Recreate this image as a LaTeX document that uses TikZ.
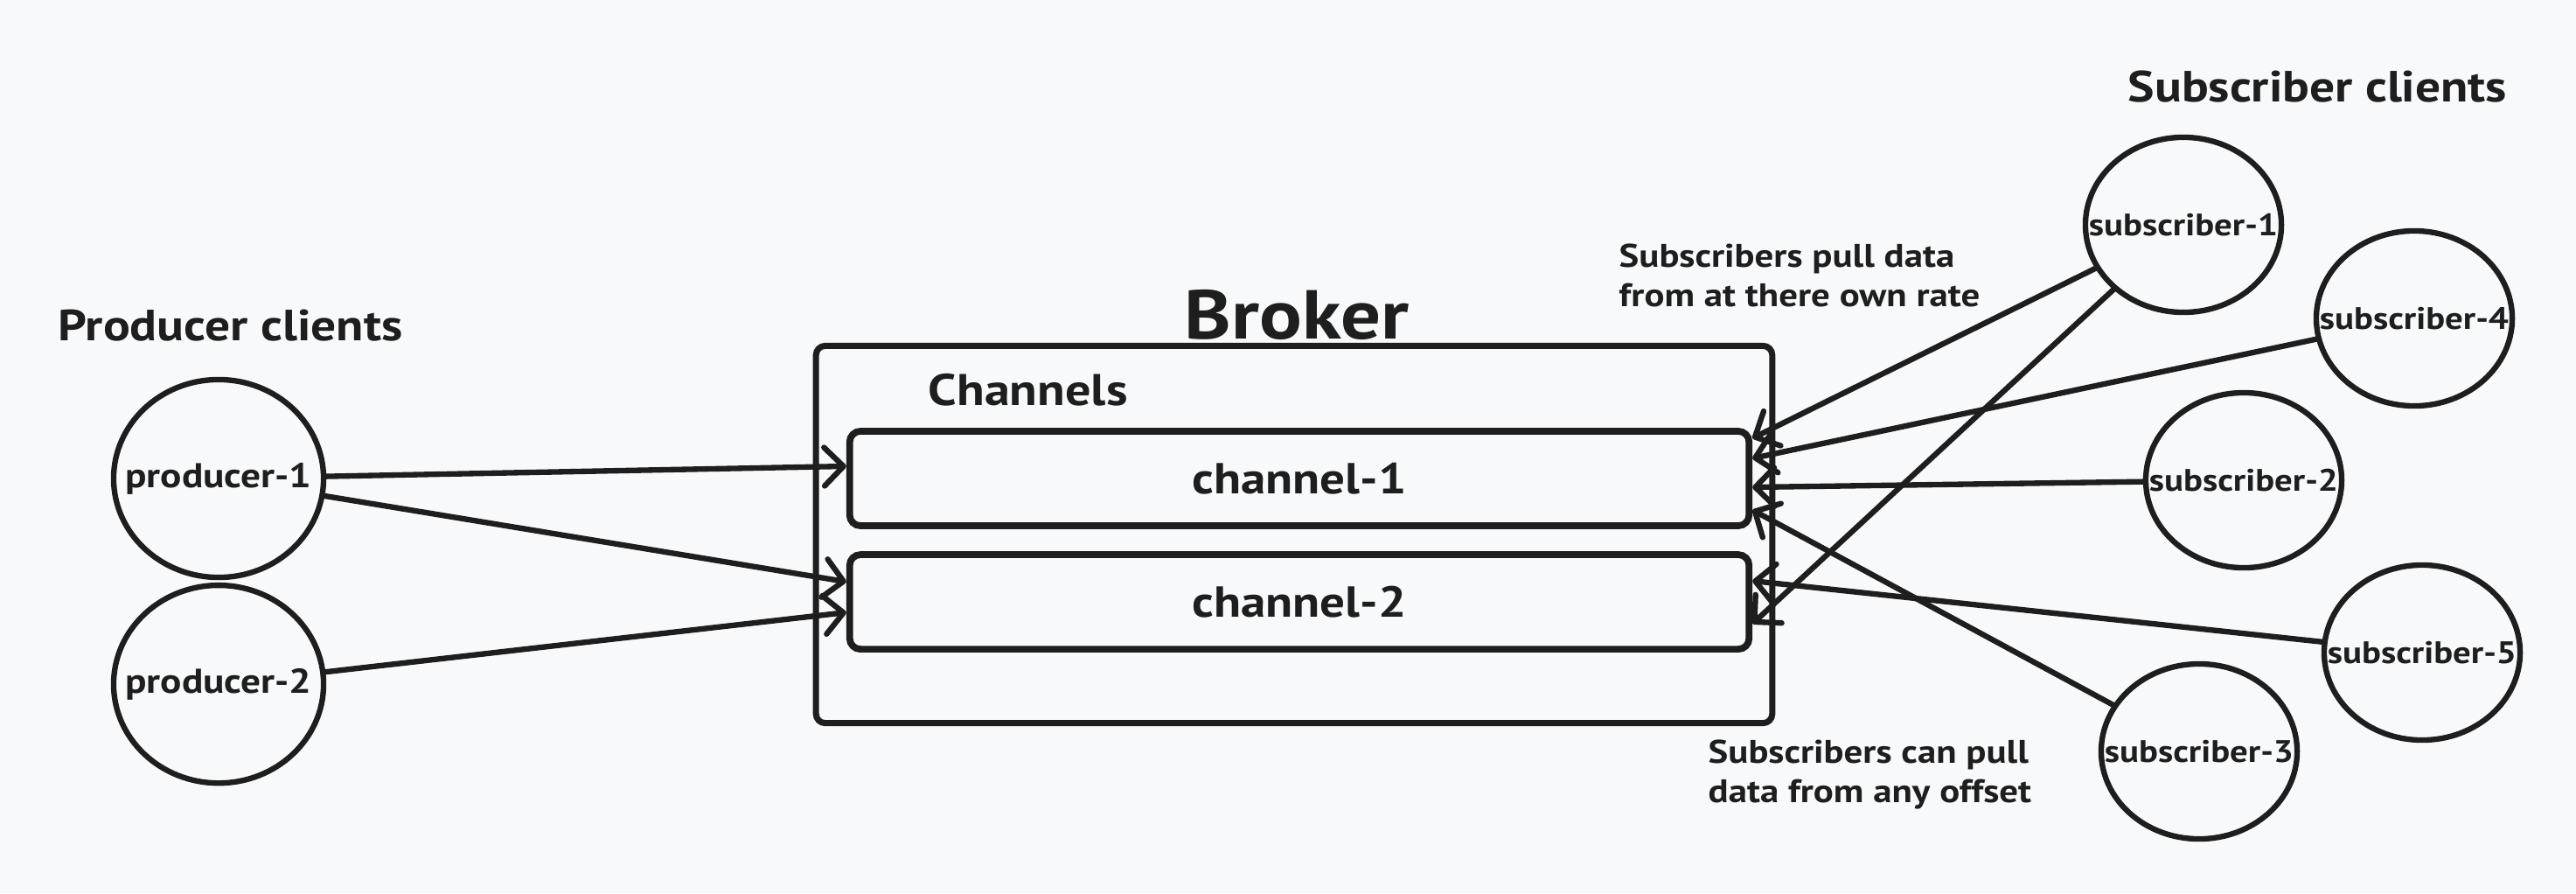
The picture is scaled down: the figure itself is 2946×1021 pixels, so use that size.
\documentclass[tikz,border=0pt]{standalone}
\usepackage{fontspec}
\setmainfont{PT Sans}[FakeStretch=1.15]
\usepackage{tikz}
\usetikzlibrary{shapes,arrows.meta,positioning}
\definecolor{ink}{HTML}{1E1E1E}
\definecolor{paper}{HTML}{F8F9FA}
\tikzset{
  client/.style={draw=ink,ellipse,line width=1.8pt,minimum width=2.4cm,minimum height=2.26cm,inner sep=0pt},
  sub/.style={client,minimum width=2.24cm,minimum height=2cm},
  chan/.style={draw=ink,line width=2.2pt,rounded corners=3.5pt,minimum width=10.28cm,minimum height=1.08cm,text=ink,font=\fontsize{14.1}{16}\selectfont\bfseries},
  lbl/.style={text=ink,inner sep=0pt,font=\fontsize{11.2}{13}\selectfont\bfseries},
  slbl/.style={text=ink,inner sep=0pt,font=\fontsize{10.1}{12}\selectfont\bfseries},
  title/.style={text=ink,inner sep=0pt,font=\fontsize{14.2}{16}\selectfont\bfseries},
  note/.style={text=ink,inner sep=0pt,align=left,font=\fontsize{10.6}{12.8}\selectfont\bfseries},
  pull/.style={->,draw=ink,line width=1.8pt,line cap=round}
}

\begin{document}
\begin{tikzpicture}[x=0.01cm,y=-0.01cm,node distance=2.35cm,>={Straight Barb[length=2.2mm,width=4.4mm,round]}]
    \fill[paper] (0,0) rectangle (2946,1021);
    \useasboundingbox (0,0) rectangle (2946,1021);
    % producers
    \node[title,anchor=base west] (ptitle) at (66,389) {Producer clients};
    \node[client,label={[lbl]center:producer-1}] (p1) at (250,547) {};
    \node[client,label={[lbl]center:producer-2}] (p2) [below of=p1] {};
    % broker
    \node[draw=ink,line width=2pt,rounded corners=3pt,minimum width=10.93cm,minimum height=4.31cm] (broker) at (1480,611) {};
    \node[title,font=\fontsize{22.5}{26}\selectfont\bfseries,anchor=base] (btitle) at (1483,387) {Broker};
    \node[title,font=\fontsize{14.4}{16}\selectfont\bfseries,anchor=base west] (ctitle) at (1061,463) {Channels};
    \node[chan] (c1) at (1486,547) {channel-1};
    \node[chan,node distance=1.41cm] (c2) [below of=c1] {channel-2};
    % subscribers
    \node[title,anchor=base west] (stitle) at (2433,116) {Subscriber clients};
    \node[sub,label={[slbl]center:subscriber-1}] (s1) at (2497,257) {};
    \node[sub,label={[slbl]center:subscriber-4}] (s4) at (2761,364) {};
    \node[sub,label={[slbl]center:subscriber-2}] (s2) at (2566,549) {};
    \node[sub,label={[slbl]center:subscriber-5}] (s5) at (2770,746) {};
    \node[sub,label={[slbl]center:subscriber-3}] (s3) at (2515,859) {};
    \node[note,anchor=north west] (n1) at (1851,278) {Subscribers pull data\\from at there own rate};
    \node[note,anchor=north west] (n2) at (1953,845) {Subscribers can pull\\data from any offset};
    \path[pull]
    (p1) edge ([yshift=1.4mm]c1.west)
    (p1) edge ([yshift=2.3mm]c2.west)
    (p2) edge ([yshift=-1.2mm]c2.west)
    (s1) edge ([yshift=4.6mm]c1.east)
    (s1) edge ([yshift=-2.5mm]c2.east)
    (s4) edge ([yshift=2.3mm]c1.east)
    (s2) edge ([yshift=-1mm]c1.east)
    (s3) edge ([yshift=-3.6mm]c1.east)
    (s5) edge ([yshift=2.4mm]c2.east)
    ;
\end{tikzpicture}
\end{document}
